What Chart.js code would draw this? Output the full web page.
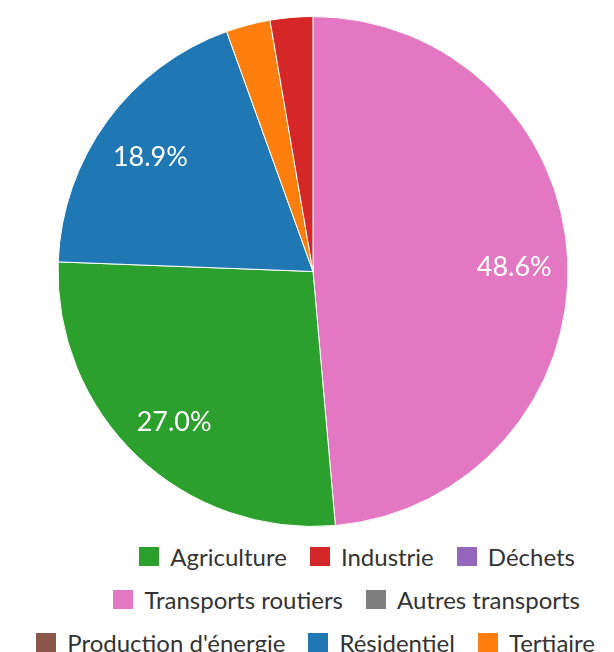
<!DOCTYPE html>
<html lang="fr">
<head>
    <meta charset="UTF-8">
    <title>Répartition des émissions par secteur</title>
    <script src="https://cdn.jsdelivr.net/npm/chart.js@4.4.1/dist/chart.umd.min.js"></script>
    <style>
        body {
            margin: 0;
            padding: 0;
            background: #ffffff;
            overflow: hidden;
            font-family: Lato, sans-serif;
        }
        #chartContainer {
            position: relative;
            width: 614px;
            height: 530px;
        }
        #legend {
            position: absolute;
            top: 535px;
            left: 8px;
            width: 587px;
            display: flex;
            flex-wrap: wrap;
            justify-content: flex-end;
        }
        .legend-item {
            display: flex;
            align-items: center;
            height: 43px;
            margin-left: 23px;
            font-size: 24px;
            color: #333333;
            white-space: nowrap;
        }
        /* the first two rows stop a bit short of the last one */
        .legend-item:nth-child(3) { margin-right: 20px; }
        .legend-item:nth-child(5) { margin-right: 15px; }
        .legend-box {
            width: 20px;
            height: 19px;
            margin-right: 11px;
        }
    </style>
</head>
<body>
    <div id="chartContainer">
        <canvas id="pieChart"></canvas>
    </div>
    <div id="legend"></div>

    <script>
        // Legend order (as in the original)
        const categories = ['Agriculture', 'Industrie', 'Déchets', 'Transports routiers',
                            'Autres transports', "Production d'énergie", 'Résidentiel', 'Tertiaire'];
        const shares = [27.0, 2.7, 0, 48.6, 0, 0, 18.9, 2.8];
        const colors = ['#2ca02c', '#d62728', '#9467bd', '#e377c2',
                        '#7f7f7f', '#8c564b', '#1f77b4', '#ff7f0e'];
        // slices go clockwise from the top in this order
        const sliceOrder = [3, 0, 6, 7, 1, 2, 4, 5];

        const labels = sliceOrder.map(i => categories[i]);
        const values = sliceOrder.map(i => shares[i]);
        const sliceColors = sliceOrder.map(i => colors[i]);

        // percentage labels inside the big slices
        const percentLabels = {
            id: 'percentLabels',
            afterDatasetsDraw(chart) {
                const ctx = chart.ctx;
                const meta = chart.getDatasetMeta(0);
                ctx.save();
                ctx.fillStyle = '#ffffff';
                ctx.font = '27px Lato';
                ctx.textAlign = 'center';
                ctx.textBaseline = 'middle';
                meta.data.forEach((arc, i) => {
                    const v = values[i];
                    if (v < 10) return;
                    const p = arc.getProps(['x', 'y', 'startAngle', 'endAngle', 'outerRadius'], true);
                    const mid = (p.startAngle + p.endAngle) / 2;
                    const r = p.outerRadius * 0.79;
                    ctx.fillText(v.toFixed(1) + '%', p.x + Math.cos(mid) * r, p.y + Math.sin(mid) * r + 5);
                });
                ctx.restore();
            }
        };

        // html legend, built from the chart's own legend items
        const htmlLegend = {
            id: 'htmlLegend',
            afterUpdate(chart) {
                const box = document.getElementById('legend');
                box.innerHTML = '';
                const items = chart.options.plugins.legend.labels.generateLabels(chart);
                items.sort((a, b) => categories.indexOf(a.text) - categories.indexOf(b.text));
                items.forEach(item => {
                    const el = document.createElement('span');
                    el.className = 'legend-item';
                    const sw = document.createElement('span');
                    sw.className = 'legend-box';
                    sw.style.background = item.fillStyle;
                    el.appendChild(sw);
                    el.appendChild(document.createTextNode(item.text));
                    box.appendChild(el);
                });
            }
        };

        new Chart(document.getElementById('pieChart'), {
            type: 'pie',
            data: {
                labels: labels,
                datasets: [{
                    data: values,
                    backgroundColor: sliceColors,
                    borderColor: '#ffffff',
                    borderWidth: 1
                }]
            },
            options: {
                responsive: true,
                maintainAspectRatio: false,
                animation: false,
                layout: {
                    padding: { top: 16, left: 12, right: 0, bottom: 3 }
                },
                plugins: {
                    legend: { display: false },
                    tooltip: { enabled: false }
                }
            },
            plugins: [percentLabels, htmlLegend]
        });
    </script>
</body>
</html>
